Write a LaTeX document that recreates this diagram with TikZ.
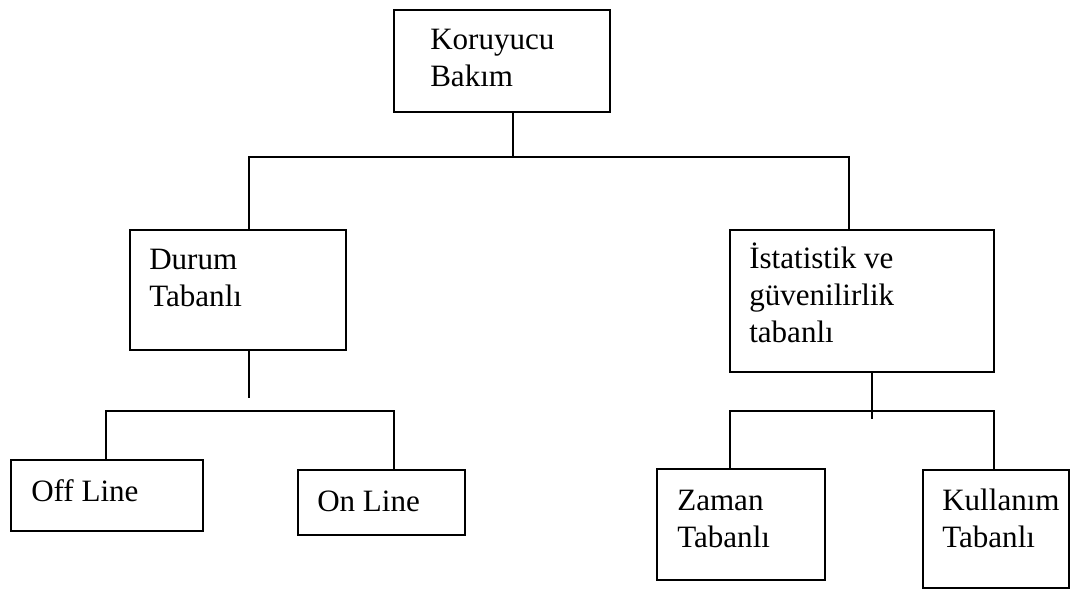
\documentclass[tikz,border=0pt]{standalone}
\usepackage{fontspec}
\setmainfont{Liberation Serif}
\usetikzlibrary{calc}
\begin{document}
\begin{tikzpicture}[x=0.75pt,y=-0.75pt,
  box/.style={draw=black,line width=1.5pt,inner sep=0pt,anchor=north west},
  lbl/.style={anchor=base west,inner sep=0pt,font=\fontsize{23.3pt}{28.1pt}\selectfont},
  wire/.style={draw=black,line width=1.5pt}]
\useasboundingbox (0,0) rectangle (1075,590);

% boxes (top-left corner, size in px)
\node[box,minimum width=216*0.75pt,minimum height=102*0.75pt] (top) at (393,9) {};
\node[box,minimum width=216*0.75pt,minimum height=120*0.75pt] (durum) at (129,229) {};
\node[box,minimum width=264*0.75pt,minimum height=142*0.75pt] (ist) at (729,229) {};
\node[box,minimum width=192*0.75pt,minimum height=71*0.75pt] (off) at (10,459) {};
\node[box,minimum width=167*0.75pt,minimum height=65*0.75pt] (on) at (297,469) {};
\node[box,minimum width=168*0.75pt,minimum height=111*0.75pt] (zaman) at (656,468) {};
\node[box,minimum width=146*0.75pt,minimum height=118*0.75pt] (kul) at (922,469) {};

% texts
\node[lbl] (ttop) at (430,49) {\parbox[t]{6cm}{Koruyucu\\Bakım}};
\node[lbl] (tdurum) at (149,269) {\parbox[t]{6cm}{Durum\\Tabanlı}};
\node[lbl] (tist) at (749,268) {\parbox[t]{6cm}{İstatistik ve\\güvenilirlik\\tabanlı}};
\node[lbl] (toff) at (31,501) {Off Line};
\node[lbl] (ton) at (317,511) {On Line};
\node[lbl] (tzaman) at (677,510) {\parbox[t]{6cm}{Zaman\\Tabanlı}};
\node[lbl] (tkul) at (942,510) {\parbox[t]{6cm}{Kullanım\\Tabanlı}};

% junction points of the tree
\coordinate (r) at (513,157);
\coordinate (rl) at (249,157);
\coordinate (rr) at (849,157);
\coordinate (dend) at (249,398);
\coordinate (dl) at (106,411);
\coordinate (dr) at (394,411);
\coordinate (iend) at (872,419);
\coordinate (il) at (730,411);
\coordinate (ir) at (994,411);

% connectors
\draw[wire] (top.south -| r) -- (r);
\draw[wire] (durum.north -| rl) -- (rl) -- (rr) -- (ist.north -| rr);
\draw[wire] (durum.south -| dend) -- (dend);
\draw[wire] (off.north -| dl) -- (dl) -- (dr) -- (on.north -| dr);
\draw[wire] (ist.south -| iend) -- (iend);
\draw[wire] (zaman.north -| il) -- (il) -- (ir) -- (kul.north -| ir);
\end{tikzpicture}
\end{document}
